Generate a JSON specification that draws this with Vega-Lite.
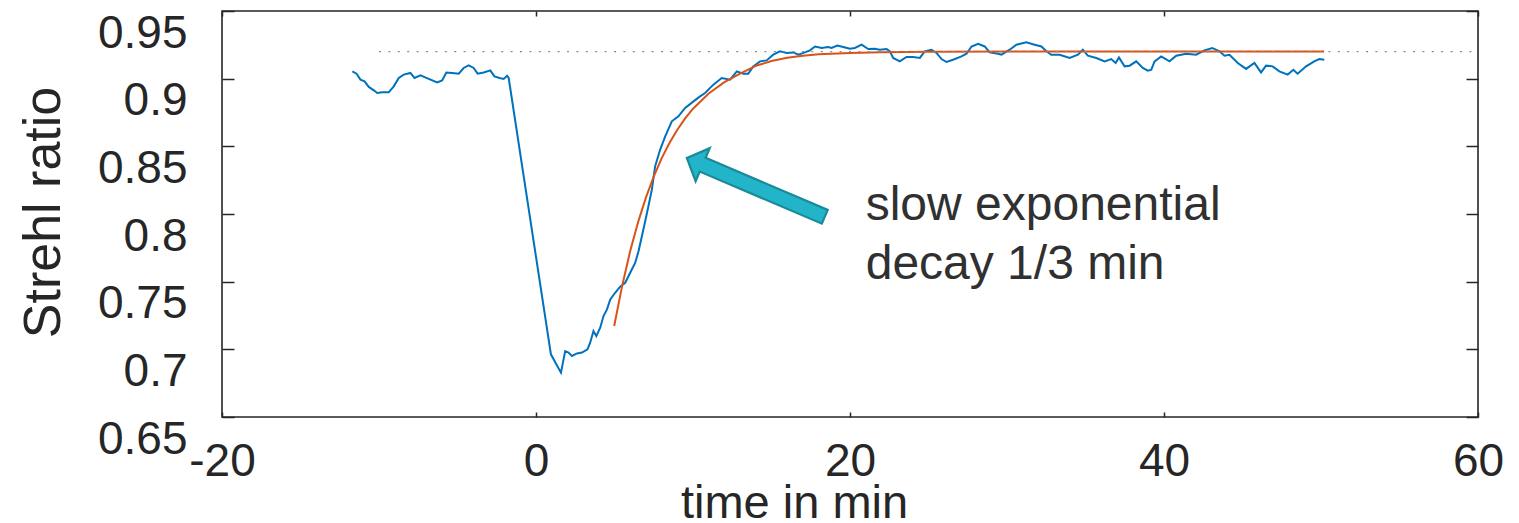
{
  "$schema": "https://vega.github.io/schema/vega-lite/v6.json",
  "width": 1256,
  "height": 406,
  "autosize": {"type": "none"},
  "padding": {"left": 222, "top": 11, "right": 41, "bottom": 106},
  "background": "white",
  "config": {
    "view": {"stroke": "#262626", "strokeWidth": 1.6},
    "axis": {"domain": false, "grid": false, "labelFont": "Liberation Sans", "titleFont": "Liberation Sans", "labelColor": "#262626", "titleColor": "#262626", "tickColor": "#262626", "tickWidth": 1.5, "titleFontWeight": "normal"}
  },
  "datasets": {
    "strehl": [
      {"t": -11.70, "s": 0.9054}, {"t": -11.43, "s": 0.9037}, {"t": -11.18, "s": 0.8993}, {"t": -10.92, "s": 0.8980},
      {"t": -10.65, "s": 0.8939}, {"t": -10.33, "s": 0.8914}, {"t": -10.11, "s": 0.8894}, {"t": -9.80, "s": 0.8899},
      {"t": -9.38, "s": 0.8899}, {"t": -9.06, "s": 0.8943}, {"t": -8.74, "s": 0.9005}, {"t": -8.42, "s": 0.9030},
      {"t": -8.00, "s": 0.9042}, {"t": -7.74, "s": 0.9005}, {"t": -7.36, "s": 0.9024}, {"t": -6.83, "s": 0.8998},
      {"t": -6.30, "s": 0.8973}, {"t": -5.98, "s": 0.8987}, {"t": -5.71, "s": 0.9046}, {"t": -5.34, "s": 0.9042},
      {"t": -4.92, "s": 0.9037}, {"t": -4.61, "s": 0.9079}, {"t": -4.29, "s": 0.9098}, {"t": -3.97, "s": 0.9079},
      {"t": -3.72, "s": 0.9037}, {"t": -3.33, "s": 0.9046}, {"t": -2.91, "s": 0.9061}, {"t": -2.65, "s": 0.9017},
      {"t": -2.32, "s": 0.9005}, {"t": -2.06, "s": 0.8998}, {"t": -1.84, "s": 0.9022}, {"t": -1.74, "s": 0.9005},
      {"t": 0.95, "s": 0.6963}, {"t": 1.59, "s": 0.6828}, {"t": 1.86, "s": 0.6987}, {"t": 2.07, "s": 0.6976},
      {"t": 2.29, "s": 0.6951}, {"t": 2.61, "s": 0.6970}, {"t": 2.93, "s": 0.6976}, {"t": 3.28, "s": 0.7000},
      {"t": 3.45, "s": 0.7049}, {"t": 3.66, "s": 0.7135}, {"t": 3.84, "s": 0.7098}, {"t": 4.09, "s": 0.7160},
      {"t": 4.30, "s": 0.7246}, {"t": 4.52, "s": 0.7295}, {"t": 4.73, "s": 0.7369}, {"t": 5.04, "s": 0.7418},
      {"t": 5.36, "s": 0.7463}, {"t": 5.68, "s": 0.7492}, {"t": 6.00, "s": 0.7566}, {"t": 6.32, "s": 0.7640},
      {"t": 6.53, "s": 0.7725}, {"t": 6.84, "s": 0.7886}, {"t": 7.16, "s": 0.8057}, {"t": 7.38, "s": 0.8181},
      {"t": 7.59, "s": 0.8353}, {"t": 7.91, "s": 0.8476}, {"t": 8.23, "s": 0.8574}, {"t": 8.65, "s": 0.8685},
      {"t": 9.07, "s": 0.8722}, {"t": 9.50, "s": 0.8784}, {"t": 10.03, "s": 0.8832}, {"t": 10.45, "s": 0.8869},
      {"t": 10.77, "s": 0.8894}, {"t": 11.30, "s": 0.8956}, {"t": 11.83, "s": 0.9005}, {"t": 12.36, "s": 0.8993},
      {"t": 12.79, "s": 0.9054}, {"t": 13.21, "s": 0.9037}, {"t": 13.52, "s": 0.9037}, {"t": 13.84, "s": 0.9091},
      {"t": 14.27, "s": 0.9128}, {"t": 14.69, "s": 0.9135}, {"t": 15.11, "s": 0.9177}, {"t": 15.54, "s": 0.9202},
      {"t": 15.97, "s": 0.9190}, {"t": 16.39, "s": 0.9194}, {"t": 16.71, "s": 0.9177}, {"t": 17.13, "s": 0.9194},
      {"t": 17.45, "s": 0.9209}, {"t": 17.77, "s": 0.9238}, {"t": 18.19, "s": 0.9227}, {"t": 18.61, "s": 0.9234},
      {"t": 18.83, "s": 0.9227}, {"t": 19.19, "s": 0.9244}, {"t": 19.57, "s": 0.9234}, {"t": 19.99, "s": 0.9221},
      {"t": 20.31, "s": 0.9227}, {"t": 20.74, "s": 0.9251}, {"t": 21.16, "s": 0.9219}, {"t": 21.58, "s": 0.9221},
      {"t": 21.90, "s": 0.9214}, {"t": 22.33, "s": 0.9219}, {"t": 22.54, "s": 0.9202}, {"t": 22.75, "s": 0.9153},
      {"t": 23.17, "s": 0.9128}, {"t": 23.60, "s": 0.9160}, {"t": 24.02, "s": 0.9160}, {"t": 24.45, "s": 0.9153},
      {"t": 24.76, "s": 0.9202}, {"t": 25.19, "s": 0.9214}, {"t": 25.51, "s": 0.9190}, {"t": 25.83, "s": 0.9145},
      {"t": 26.15, "s": 0.9123}, {"t": 26.56, "s": 0.9140}, {"t": 27.10, "s": 0.9165}, {"t": 27.42, "s": 0.9184},
      {"t": 27.74, "s": 0.9238}, {"t": 28.16, "s": 0.9258}, {"t": 28.58, "s": 0.9238}, {"t": 28.90, "s": 0.9194},
      {"t": 29.43, "s": 0.9184}, {"t": 29.65, "s": 0.9177}, {"t": 30.17, "s": 0.9214}, {"t": 30.60, "s": 0.9251},
      {"t": 31.23, "s": 0.9268}, {"t": 31.76, "s": 0.9251}, {"t": 32.19, "s": 0.9238}, {"t": 32.51, "s": 0.9202},
      {"t": 32.82, "s": 0.9177}, {"t": 33.35, "s": 0.9177}, {"t": 33.99, "s": 0.9153}, {"t": 34.52, "s": 0.9177},
      {"t": 34.83, "s": 0.9214}, {"t": 35.15, "s": 0.9170}, {"t": 35.69, "s": 0.9153}, {"t": 36.22, "s": 0.9128},
      {"t": 36.64, "s": 0.9145}, {"t": 36.92, "s": 0.9116}, {"t": 37.13, "s": 0.9157}, {"t": 37.49, "s": 0.9091},
      {"t": 37.81, "s": 0.9096}, {"t": 38.23, "s": 0.9128}, {"t": 38.65, "s": 0.9079}, {"t": 38.97, "s": 0.9059},
      {"t": 39.19, "s": 0.9066}, {"t": 39.40, "s": 0.9128}, {"t": 39.82, "s": 0.9165}, {"t": 40.35, "s": 0.9128},
      {"t": 40.78, "s": 0.9170}, {"t": 41.41, "s": 0.9184}, {"t": 42.05, "s": 0.9177}, {"t": 42.58, "s": 0.9209},
      {"t": 43.07, "s": 0.9227}, {"t": 43.54, "s": 0.9202}, {"t": 43.85, "s": 0.9170}, {"t": 44.17, "s": 0.9177},
      {"t": 44.70, "s": 0.9116}, {"t": 45.23, "s": 0.9072}, {"t": 45.76, "s": 0.9116}, {"t": 46.18, "s": 0.9046},
      {"t": 46.50, "s": 0.9096}, {"t": 46.92, "s": 0.9091}, {"t": 47.35, "s": 0.9054}, {"t": 47.88, "s": 0.9030},
      {"t": 48.24, "s": 0.9066}, {"t": 48.51, "s": 0.9037}, {"t": 49.05, "s": 0.9091}, {"t": 49.57, "s": 0.9128},
      {"t": 49.89, "s": 0.9145}, {"t": 50.21, "s": 0.9140}
    ],
    "fit": [
      {"t": 4.98, "s": 0.7172}, {"t": 5.5, "s": 0.7476}, {"t": 6.0, "s": 0.7726}, {"t": 6.5, "s": 0.7939},
      {"t": 7.0, "s": 0.8121}, {"t": 7.5, "s": 0.8277}, {"t": 8.0, "s": 0.8411}, {"t": 8.5, "s": 0.8525},
      {"t": 9.0, "s": 0.8623}, {"t": 9.5, "s": 0.8706}, {"t": 10.0, "s": 0.8778}, {"t": 11.0, "s": 0.8891},
      {"t": 12.0, "s": 0.8974}, {"t": 13.0, "s": 0.9038}, {"t": 14.0, "s": 0.9095}, {"t": 15.0, "s": 0.9130},
      {"t": 16.0, "s": 0.9155}, {"t": 17.0, "s": 0.9170}, {"t": 18.0, "s": 0.9180}, {"t": 20.0, "s": 0.9190},
      {"t": 22.0, "s": 0.9195}, {"t": 25.0, "s": 0.9198}, {"t": 30.0, "s": 0.9200}, {"t": 40.0, "s": 0.9200},
      {"t": 50.2, "s": 0.9200}
    ],
    "ref": [{"t": -10, "s": 0.92}, {"t": 60, "s": 0.92}],
    "arrow": [{"t": 14.0, "s": 0.8197}],
    "notes": [
      {"t": 21.0, "s": 0.7952, "label": "slow exponential"},
      {"t": 21.0, "s": 0.7517, "label": "decay 1/3 min"}
    ]
  },
  "layer": [
    {
      "data": {"name": "strehl"},
      "mark": {"type": "line", "color": "#0072BD", "strokeWidth": 2},
      "encoding": {
        "x": {"field": "t", "type": "quantitative", "scale": {"domain": [-20, 60], "nice": false, "zero": false},
          "axis": {"orient": "bottom", "values": [-20, 0, 20, 40, 60], "labelExpr": "'' + datum.value", "labelFontSize": 46, "labelFlush": false, "labelBaseline": "top", "tickSize": -5, "labelPadding": 27, "title": "time in min", "titleFontSize": 47, "titleX": 572, "titleY": 100, "titleBaseline": "alphabetic", "titleAnchor": "start", "titleAlign": "center"}},
        "y": {"field": "s", "type": "quantitative", "scale": {"domain": [0.65, 0.95], "nice": false, "zero": false},
          "axis": {"orient": "left", "values": [0.65, 0.7, 0.75, 0.8, 0.85, 0.9, 0.95], "format": ".2~f", "labelFontSize": 46, "labelFlush": false, "labelBaseline": "top", "tickSize": -12, "labelPadding": 47, "title": "Strehl ratio", "titleFontSize": 52, "titleX": -163, "titleY": 201, "titleBaseline": "alphabetic", "titleAngle": -90, "titleAnchor": "start", "titleAlign": "center"}}
      }
    },
    {
      "data": {"name": "fit"},
      "mark": {"type": "line", "color": "#D95319", "strokeWidth": 2},
      "encoding": {
        "x": {"field": "t", "type": "quantitative", "axis": null},
        "y": {"field": "s", "type": "quantitative", "axis": null}
      }
    },
    {
      "data": {"name": "ref"},
      "mark": {"type": "line", "color": "#8c8c8c", "strokeWidth": 1.3, "strokeDash": [2, 7.4]},
      "encoding": {
        "x": {"field": "t", "type": "quantitative", "axis": {"orient": "top", "values": [-20, 0, 20, 40, 60], "labels": false, "tickSize": -5, "title": null}},
        "y": {"field": "s", "type": "quantitative", "axis": {"orient": "right", "values": [0.65, 0.7, 0.75, 0.8, 0.85, 0.9, 0.95], "labels": false, "tickSize": -12, "title": null}}
      }
    },
    {
      "data": {"name": "arrow"},
      "mark": {"type": "point", "filled": true, "shape": "M-1,0 L-0.77,-0.24 L-0.77,-0.1 L1,-0.1 L1,0.1 L-0.77,0.1 L-0.77,0.24 Z", "size": 22500, "angle": 23.1, "fill": "#22B4C8", "fillOpacity": 1, "stroke": "#1A8A99", "strokeWidth": 2.2, "opacity": 1},
      "encoding": {
        "x": {"field": "t", "type": "quantitative", "axis": null},
        "y": {"field": "s", "type": "quantitative", "axis": null}
      }
    },
    {
      "data": {"name": "notes"},
      "mark": {"type": "text", "align": "left", "baseline": "alphabetic", "font": "Liberation Sans", "fontSize": 48, "color": "#303030"},
      "encoding": {
        "x": {"field": "t", "type": "quantitative", "axis": null},
        "y": {"field": "s", "type": "quantitative", "axis": null},
        "text": {"field": "label"}
      }
    }
  ],
  "resolve": {"axis": {"x": "independent", "y": "independent"}}
}
